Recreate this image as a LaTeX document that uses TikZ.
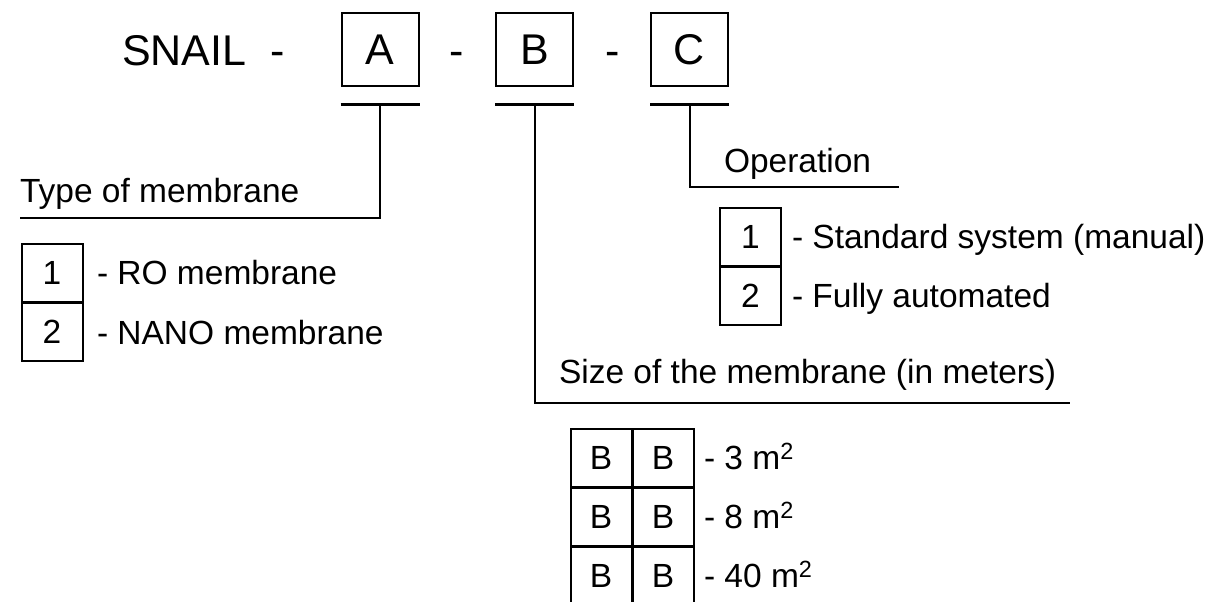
\documentclass[tikz,border=0pt]{standalone}
\usepackage{fontspec}
\setmainfont{Liberation Sans}
\usepackage{tikz}

\newcommand{\bigtext}{\fontsize{43}{50}\selectfont}
\newcommand{\smalltext}{\fontsize{33.5}{40}\selectfont}

\begin{document}
\begin{tikzpicture}[x=1pt,y=-1pt,line width=2pt,
    letterbox/.style={draw,minimum width=77pt,minimum height=73pt,inner sep=0pt,font=\bigtext},
    digitbox/.style={draw,minimum width=61pt,minimum height=58pt,inner sep=0pt,font=\smalltext},
    caption/.style={anchor=base west,inner sep=0pt,font=\smalltext}]
    \clip (0,0) rectangle (1227,602);

    % code line
    \node[anchor=base west,inner sep=0pt,font=\bigtext] (snail) at (121,66) {SNAIL};
    \node[anchor=base,inner sep=0pt,font=\bigtext] (d1) at (278,66) {-};
    \node[letterbox] (A) at (380,50) {A};
    \node[anchor=base,inner sep=0pt,font=\bigtext] (d2) at (457,66) {-};
    \node[letterbox] (B) at (534.5,50) {B};
    \node[anchor=base,inner sep=0pt,font=\bigtext] (d3) at (613,66) {-};
    \node[letterbox] (C) at (689.5,50) {C};

    \draw ([yshift=-17pt]A.south west) -- ([yshift=-17pt]A.south east);
    \draw ([yshift=-17pt]B.south west) -- ([yshift=-17pt]B.south east);
    \draw ([yshift=-17pt]C.south west) -- ([yshift=-17pt]C.south east);
    \coordinate (ua) at ([yshift=-17pt]A.south);
    \coordinate (ub) at ([yshift=-17pt]B.south);
    \coordinate (uc) at ([yshift=-17pt]C.south);

    % type of membrane
    \node[caption] (typeA) at (19,202) {Type of membrane};
    \coordinate (ta) at (20,218);
    \draw (ua) |- (ta);
    \node[digitbox] (A1) at (52,272.5) {1};
    \node[digitbox] (A2) at (52,332) {2};
    \node[caption] (A1t) at (96,284) {- RO membrane};
    \node[caption] (A2t) at (96,344) {- NANO membrane};

    % operation
    \node[caption] (opC) at (723,172) {Operation};
    \coordinate (tc) at (899,187);
    \draw (uc) |- (tc);
    \node[digitbox] (C1) at (750.5,236.5) {1};
    \node[digitbox] (C2) at (750.5,295.5) {2};
    \node[caption] (C1t) at (791,248) {- Standard system (manual)};
    \node[caption] (C2t) at (791,307) {- Fully automated};

    % size
    \node[caption] (sizeB) at (558,383) {Size of the membrane (in meters)};
    \coordinate (tb) at (1070,403);
    \draw (ub) |- (tb);
    \node[digitbox] (B11) at (601,457.5) {B};
    \node[digitbox] (B12) at (663,457.5) {B};
    \node[digitbox] (B21) at (601,516.5) {B};
    \node[digitbox] (B22) at (663,516.5) {B};
    \node[digitbox] (B31) at (601,575.5) {B};
    \node[digitbox] (B32) at (663,575.5) {B};
    \node[caption] (B1t) at (703,469) {- 3 m\textsuperscript{2}};
    \node[caption] (B2t) at (703,528) {- 8 m\textsuperscript{2}};
    \node[caption] (B3t) at (703,587) {- 40 m\textsuperscript{2}};
\end{tikzpicture}
\end{document}
